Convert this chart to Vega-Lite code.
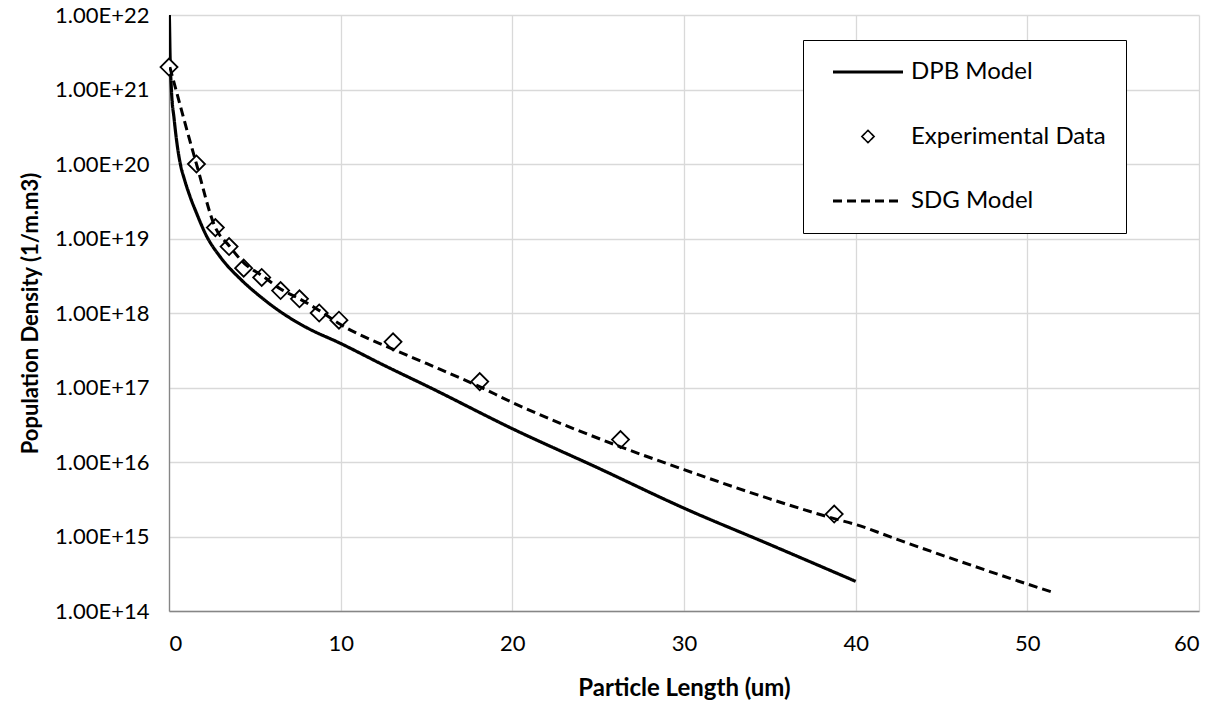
{
  "$schema": "https://vega.github.io/schema/vega-lite/v6.json",
  "width": 1030,
  "height": 596,
  "autosize": "none",
  "padding": {"left": 169, "top": 15, "right": 26, "bottom": 93},
  "background": "white",
  "config": {
    "view": {"stroke": null},
    "font": "Lato",
    "axis": {
      "grid": true,
      "gridColor": "#d9d9d9",
      "gridWidth": 1.3,
      "domainColor": "#868686",
      "domainWidth": 1.3,
      "ticks": false,
      "labelFont": "Lato",
      "labelFontSize": 22,
      "labelColor": "black",
      "titleFont": "Lato",
      "titleFontSize": 22,
      "titleFontWeight": "bold",
      "titleColor": "black"
    }
  },
  "datasets": {
    "curves": [
      {"series": "DPB Model", "x": 0.0, "y": 1.3e22},
      {"series": "DPB Model", "x": 0.02, "y": 1e22},
      {"series": "DPB Model", "x": 0.06, "y": 3e21},
      {"series": "DPB Model", "x": 0.14, "y": 1e21},
      {"series": "DPB Model", "x": 0.3, "y": 4e20},
      {"series": "DPB Model", "x": 0.45, "y": 2e20},
      {"series": "DPB Model", "x": 0.66, "y": 1e20},
      {"series": "DPB Model", "x": 0.9, "y": 6.2e19},
      {"series": "DPB Model", "x": 1.2, "y": 3.8e19},
      {"series": "DPB Model", "x": 1.6, "y": 2.2e19},
      {"series": "DPB Model", "x": 2.17, "y": 1.1e19},
      {"series": "DPB Model", "x": 3.0, "y": 5.6e18},
      {"series": "DPB Model", "x": 4.2, "y": 2.8e18},
      {"series": "DPB Model", "x": 5.2, "y": 1.75e18},
      {"series": "DPB Model", "x": 6.6, "y": 1e18},
      {"series": "DPB Model", "x": 8.0, "y": 6.4e17},
      {"series": "DPB Model", "x": 10, "y": 3.9e17},
      {"series": "DPB Model", "x": 12.5, "y": 2e17},
      {"series": "DPB Model", "x": 15.2, "y": 1e17},
      {"series": "DPB Model", "x": 20, "y": 2.8e16},
      {"series": "DPB Model", "x": 25, "y": 8.3e15},
      {"series": "DPB Model", "x": 30, "y": 2.4e15},
      {"series": "DPB Model", "x": 35, "y": 7.8e14},
      {"series": "DPB Model", "x": 40, "y": 2.5e14},
      {"series": "SDG Model", "x": 0.05, "y": 2e21},
      {"series": "SDG Model", "x": 1.6, "y": 1e20},
      {"series": "SDG Model", "x": 2.7, "y": 1.4e19},
      {"series": "SDG Model", "x": 3.5, "y": 8e18},
      {"series": "SDG Model", "x": 4.4, "y": 4.6e18},
      {"series": "SDG Model", "x": 5.4, "y": 3.2e18},
      {"series": "SDG Model", "x": 6.5, "y": 2.1e18},
      {"series": "SDG Model", "x": 7.6, "y": 1.55e18},
      {"series": "SDG Model", "x": 8.7, "y": 1.1e18},
      {"series": "SDG Model", "x": 10, "y": 7e17},
      {"series": "SDG Model", "x": 13, "y": 3.3e17},
      {"series": "SDG Model", "x": 15, "y": 2.1e17},
      {"series": "SDG Model", "x": 18, "y": 1.05e17},
      {"series": "SDG Model", "x": 20, "y": 6.3e16},
      {"series": "SDG Model", "x": 26.3, "y": 1.6e16},
      {"series": "SDG Model", "x": 30, "y": 7.9e15},
      {"series": "SDG Model", "x": 35, "y": 3.2e15},
      {"series": "SDG Model", "x": 38.7, "y": 1.75e15},
      {"series": "SDG Model", "x": 40, "y": 1.45e15},
      {"series": "SDG Model", "x": 42.5, "y": 9e14},
      {"series": "SDG Model", "x": 46, "y": 4.7e14},
      {"series": "SDG Model", "x": 50, "y": 2.3e14},
      {"series": "SDG Model", "x": 51.6, "y": 1.75e14}
    ],
    "experimental": [
      {"x": 0.0, "y": 2e21},
      {"x": 1.6, "y": 1e20},
      {"x": 2.7, "y": 1.4e19},
      {"x": 3.5, "y": 7.8e18},
      {"x": 4.35, "y": 4e18},
      {"x": 5.4, "y": 3e18},
      {"x": 6.5, "y": 2e18},
      {"x": 7.6, "y": 1.55e18},
      {"x": 8.75, "y": 1e18},
      {"x": 9.9, "y": 8e17},
      {"x": 13.05, "y": 4.1e17},
      {"x": 18.1, "y": 1.2e17},
      {"x": 26.3, "y": 2e16},
      {"x": 38.75, "y": 2e15}
    ]
  },
  "layer": [
    {
      "data": {"name": "curves"},
      "transform": [{"filter": "datum.series === 'DPB Model'"}],
      "mark": {"type": "line", "color": "black", "strokeWidth": 3.2, "clip": true, "interpolate": "monotone"},
      "encoding": {
        "x": {"field": "x", "type": "quantitative", "scale": {"domain": [0, 60], "nice": false, "zero": false},
          "axis": {"values": [0, 10, 20, 30, 40, 50, 60], "title": "Particle Length (um)", "titleFontSize": 24, "labelPadding": 22, "titlePadding": 22}},
        "y": {"field": "y", "type": "quantitative", "scale": {"type": "log", "domain": [1e14, 1e22], "nice": false},
          "axis": {"values": [1e14, 1e15, 1e16, 1e17, 1e18, 1e19, 1e20, 1e21, 1e22], "labelExpr": "'1.00E+' + round(log(datum.value) / LN10)", "title": "Population Density (1/m.m3)", "labelPadding": 20, "titlePadding": 12}},
        "strokeDash": {
          "field": "series", "type": "nominal",
          "scale": {"domain": ["DPB Model", "Experimental Data", "SDG Model"], "range": [[1, 0], [1, 0], [9, 5]]},
          "legend": {
            "title": null,
            "orient": "none",
            "legendX": 634,
            "legendY": 25,
            "padding": 20,
            "strokeColor": "black",
            "fillColor": "white",
            "cornerRadius": 0,
            "rowPadding": 40.5,
            "symbolType": "stroke",
            "symbolSize": 400,
            "symbolStrokeColor": "black",
            "symbolStrokeWidth": 3,
            "symbolOffset": 33,
            "labelOffset": 31,
            "labelFont": "Lato",
            "labelFontSize": 24,
            "labelColor": "black",
            "labelLimit": 400,
            "encode": {
              "symbols": {
                "update": {
                  "shape": {"signal": "datum.value === 'Experimental Data' ? 'diamond' : 'stroke'"},
                  "size": {"signal": "datum.value === 'Experimental Data' ? 150 : 4900"},
                  "strokeWidth": {"signal": "datum.value === 'Experimental Data' ? 1.6 : 3"},
                  "strokeDash": {"signal": "datum.value === 'SDG Model' ? [9, 5] : [1, 0]"},
                  "stroke": {"value": "black"},
                  "fill": {"value": "transparent"}
                }
              }
            }
          }
        }
      }
    },
    {
      "data": {"name": "experimental"},
      "mark": {"type": "point", "shape": "diamond", "size": 290, "filled": false, "fill": "white", "fillOpacity": 1, "stroke": "black", "strokeWidth": 1.8, "opacity": 1},
      "encoding": {
        "x": {"field": "x", "type": "quantitative"},
        "y": {"field": "y", "type": "quantitative"}
      }
    },
    {
      "data": {"name": "curves"},
      "transform": [{"filter": "datum.series === 'SDG Model'"}],
      "mark": {"type": "line", "color": "black", "strokeWidth": 3, "clip": true, "interpolate": "monotone"},
      "encoding": {
        "x": {"field": "x", "type": "quantitative"},
        "y": {"field": "y", "type": "quantitative"},
        "strokeDash": {"field": "series", "type": "nominal"}
      }
    }
  ]
}
